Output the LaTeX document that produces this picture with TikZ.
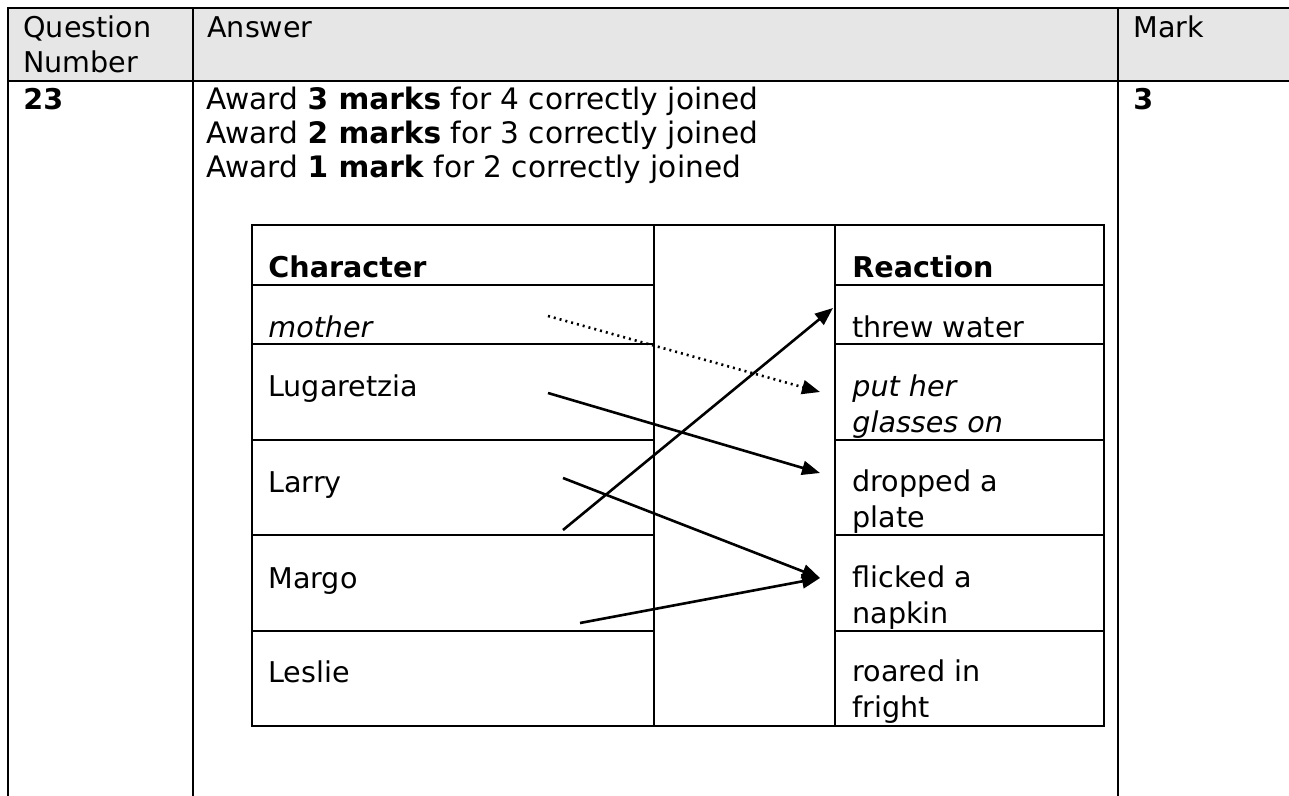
\documentclass[tikz,border=0pt]{standalone}
\usepackage{fontspec}
\setmainfont{DejaVu Sans}
\usetikzlibrary{arrows.meta}

\definecolor{headgray}{HTML}{E6E6E6}

\begin{document}
\begin{tikzpicture}[x=0.5pt, y=-0.5pt,
    rule/.style={line width=1.2pt},
    txt/.style={anchor=base west, inner sep=0pt, align=left,
        font=\fontsize{14.3}{17.5}\selectfont},
    awardtxt/.style={txt, font=\fontsize{14.8}{17}\selectfont},
    celltxt/.style={txt, font=\fontsize{14.3}{18}\selectfont},
    joinline/.style={line width=1.3pt, -{Triangle[length=9pt, width=7pt]}}]

    % Page
    \useasboundingbox (0,0) rectangle (1289,796);

    % Outer table
    \fill[headgray] (8,8) rectangle (1289,81);
    \draw[rule] (1289,8) -- (8,8) -- (8,796);
    \draw[rule] (8,81) -- (1289,81);
    \draw[rule] (193,8) -- (193,796);
    \draw[rule] (1118,8) -- (1118,796);

    % Header row (multi-line nodes sit on their last line)
    \node[txt] (qnum) at (23,73) {Question\\Number};
    \node[txt] (answer) at (207,38) {Answer};
    \node[txt] (mark) at (1133,38) {Mark};

    % Question row
    \node[txt] (qno) at (23,110) {\textbf{23}};
    \node[awardtxt] (award) at (206,178) {Award \textbf{3 marks} for 4 correctly joined\\
        Award \textbf{2 marks} for 3 correctly joined\\
        Award \textbf{1 mark} for 2 correctly joined};
    \node[txt] (total) at (1133,110) {\textbf{3}};

    % Matching table
    \draw[rule] (252,225) rectangle (1104,726);
    \draw[rule] (654,225) -- (654,726);
    \draw[rule] (835,225) -- (835,726);
    \foreach \y in {285,344,440,535,631} {
        \draw[rule] (252,\y) -- (654,\y);
        \draw[rule] (835,\y) -- (1104,\y);
    }

    % Characters
    \foreach \name/\y/\who in {character/278/\textbf{Character},
        mother/337/\textit{mother}, lugaretzia/396/Lugaretzia,
        larry/492/Larry, margo/588/Margo, leslie/682/Leslie} {
        \node[celltxt] (\name) at (268,\y) {\who};
    }

    % Reactions
    \foreach \name/\y/\what in {reaction/278/\textbf{Reaction},
        water/337/threw water, glasses/432/\textit{put her}\\\textit{glasses on},
        plate/527/dropped a\\plate, napkin/623/flicked a\\napkin,
        fright/717/roared in\\fright} {
        \node[celltxt] (\name) at (852,\y) {\what};
    }

    % Answer lines
    \coordinate (mother-t) at (548,316);
    \coordinate (lugaretzia-t) at (548,393);
    \coordinate (larry-t) at (563,478);
    \coordinate (larry-u) at (563,530);
    \coordinate (margo-t) at (580,623);
    \coordinate (water-h) at (833,308);
    \coordinate (glasses-h) at (820,392);
    \coordinate (plate-h) at (820,473);
    \coordinate (napkin-h) at (820,578);

    \draw[joinline, dash pattern=on 1pt off 2pt] (mother-t) -- (glasses-h);
    \draw[joinline] (lugaretzia-t) -- (plate-h);
    \draw[joinline] (larry-t) -- (napkin-h);
    \draw[joinline] (larry-u) -- (water-h);
    \draw[joinline] (margo-t) -- (napkin-h);
\end{tikzpicture}
\end{document}
